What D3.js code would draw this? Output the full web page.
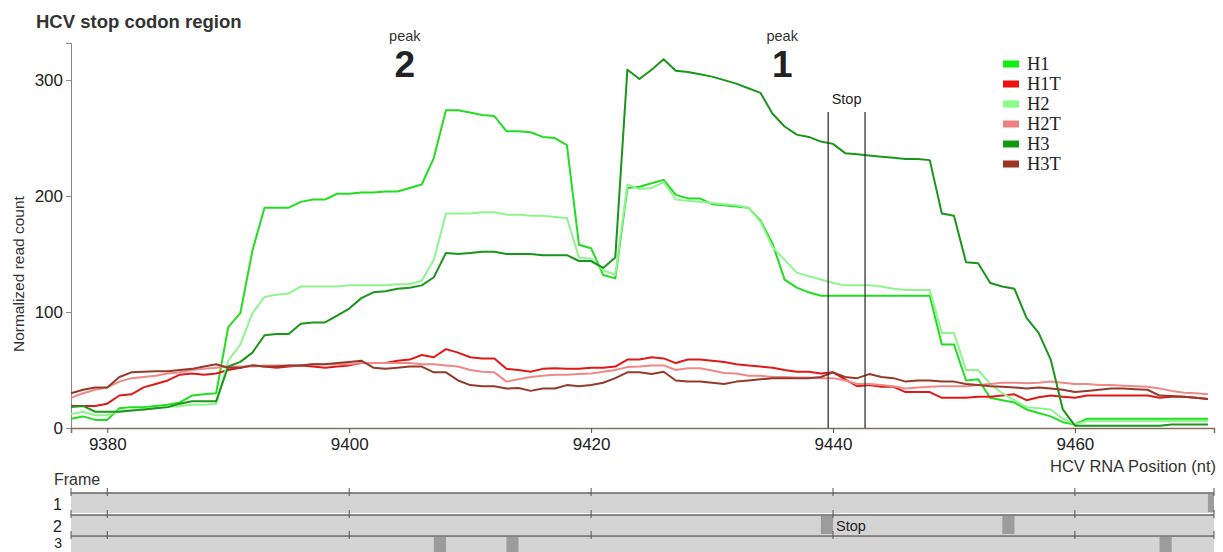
<!DOCTYPE html>
<html>
<head>
<meta charset="utf-8">
<script src="https://cdn.jsdelivr.net/npm/d3@7"></script>
<style>
  body { margin: 0; background: #fff; }
  svg { display: block; font-family: "Liberation Sans", Arial, sans-serif; }
  .axis text { font-size: 17px; fill: #222; }
</style>
</head>
<body>
<div id="chart"></div>
<script>
// positions start at 9377, one value per nucleotide
const startPos = 9377;

const H1 = [8, 10, 7, 7, 17, 18, 18, 19, 20, 22, 28, 29, 30,
  87, 99, 153, 190, 190, 190, 195, 197, 197, 202, 202, 203, 203, 204, 204, 207, 210, 233,
  274, 274, 272, 270, 269, 256, 256, 255, 251, 250, 244, 158, 155, 132, 129,
  207, 208, 211, 214, 201, 198, 198, 193, 192, 191, 190, 179, 159, 128, 121, 117,
  114, 114, 114, 114, 114, 114, 114, 114, 114, 114,
  72, 72, 41, 42, 26, 24, 22, 16, 13, 10, 5, 3,
  8, 8, 8, 8, 8, 8, 8, 8, 8, 8, 8];

const H1T = [19, 19, 19, 21, 28, 29, 35, 38, 41, 46, 47, 46, 47,
  50, 52, 54, 53, 52, 53, 54, 53, 52, 53, 54, 56, 56, 56, 58, 59, 63, 61,
  68, 65, 61, 60, 60, 51, 50, 48.5, 51, 51.5, 51, 51, 52, 52, 53,
  59, 59, 61, 60, 56, 59, 59, 58, 57, 55, 54, 53, 52, 50, 48.5, 48.5,
  47, 48, 42, 36, 37, 35.5, 35.5, 31, 31, 31,
  26, 26, 26, 27, 27, 28, 29, 24, 26.5, 28, 27, 26,
  28, 28, 28, 28, 28, 28, 26, 27, 27, 26, 25];

const H2 = [12, 14, 11, 11, 15, 15, 16, 17, 18, 19, 20, 20, 21,
  58, 72, 99, 113, 115, 116, 122, 122, 122, 122, 123, 123, 123, 123, 124, 124, 127, 145,
  185, 185, 185, 186, 186, 184, 184, 183, 183, 182, 181, 147, 146, 136, 132,
  210, 206, 207, 212, 197, 196, 195, 194, 193, 192, 190, 178, 156, 145, 134, 131,
  128, 125, 123, 123, 123, 122, 120, 119, 119, 119,
  82, 82, 50, 50, 38, 30, 24, 18, 17, 16, 8, 3,
  6, 6, 6, 6, 6, 6, 6, 6, 6, 6, 6];

const H2T = [26, 30, 33, 35, 40, 43, 44, 45, 47, 48, 50, 51, 52,
  53, 53, 53, 54, 54, 54, 54, 55, 55, 55, 55, 56, 56, 56, 56, 56, 55, 55,
  54, 53, 50, 48.5, 48, 40, 42, 44, 45, 46, 46, 46.5, 47, 48.5, 50,
  52.5, 53, 54, 54, 50, 51.5, 51.5, 49.5, 47.5, 47, 45, 45, 44, 44, 43.5, 43.5,
  43, 43, 41, 38, 38, 37, 36, 34, 35, 35.5,
  36, 36, 36, 37, 38, 39, 39, 38.5, 39, 40, 39, 38,
  38, 37, 37, 36.5, 36, 35.5, 34, 32, 30.5, 30, 29];

const H3 = [18, 19, 14, 14, 14, 15, 16, 17, 18, 21, 23, 23, 23,
  53, 57, 65, 80, 81, 81, 90, 91, 91, 97, 103, 112, 117, 118, 120, 121, 123, 130,
  151, 150, 151, 152, 152, 150, 150, 150, 149, 149, 149, 144, 144, 138, 147,
  309, 301, 309, 318, 308, 307, 305, 303, 300, 297, 293, 289, 271, 260, 253, 251,
  247, 245, 237, 236, 235, 234, 233, 232, 232, 231,
  185, 183, 143, 142, 125, 122, 120, 95, 82, 59, 16, 2,
  2, 2, 2, 2, 2, 2, 2, 3, 3, 3, 3];

const H3T = [30, 33, 35, 35, 44, 48, 48.5, 49, 49, 50, 51, 53, 55,
  52, 52, 54, 53, 53, 54, 54, 55, 55, 56, 57, 58, 52, 51, 52, 53, 53, 48,
  48, 41, 37, 36, 36, 34, 34.5, 32, 34, 34, 37, 36, 37, 39, 43,
  48, 48, 46.5, 48.5, 41, 40, 40, 39, 38, 40, 41, 42, 43, 43, 43, 43,
  44, 48, 44, 43, 46.5, 44, 43, 40, 41, 41,
  40, 40, 38, 37, 36, 35.5, 35, 34, 35, 34, 33, 31,
  32, 33, 34, 34, 33.5, 33, 28, 27.5, 27, 26, 25];

const seriesNames = ["H1", "H1T", "H2", "H2T", "H3", "H3T"];
const seriesValues = [H1, H1T, H2, H2T, H3, H3T];
const seriesColors = ["#22dd22", "#e01818", "#8ff58f", "#f08888", "#1a961a", "#943a2a"];
const legendColors = ["#11ee11", "#ee1111", "#88ff88", "#f08080", "#119911", "#993322"];

const xTicks = [9380, 9400, 9420, 9440, 9460];
const yTicks = [0, 100, 200, 300];
const stopLines = [9439.6, 9442.65];
const peaks = [{pos: 9404.6, label: "2"}, {pos: 9435.8, label: "1"}];

// stop codons in each reading frame (start nt of the marked cell)
const frameNames = ["1", "2", "3"];
const frameStops = [[9471], [9439, 9454], [9407, 9413, 9467]];

const width = 1223, height = 552;
const margin = {left: 71, right: 9, top: 43, bottom: 124};

const svg = d3.select("#chart").append("svg")
  .attr("width", width)
  .attr("height", height);

const x = d3.scaleLinear()
  .domain([9377, 9471.5])
  .range([margin.left, width - margin.right]);

const y = d3.scaleLinear()
  .domain([0, 332])
  .range([height - margin.bottom, margin.top]);

// title
svg.append("text")
  .attr("x", 36).attr("y", 28)
  .attr("font-size", 18.5).attr("font-weight", "bold")
  .attr("fill", "#333")
  .text("HCV stop codon region");

// y axis
const yAxis = svg.append("g")
  .attr("class", "axis")
  .attr("transform", `translate(${margin.left},0)`)
  .call(d3.axisLeft(y).tickValues(yTicks).tickSize(5).tickPadding(3));
yAxis.select(".domain").attr("stroke", "#888");
yAxis.selectAll(".tick line").attr("stroke", "#888");

svg.append("text")
  .attr("transform", `translate(24,${(y(0) + y(300)) / 2 + 20}) rotate(-90)`)
  .attr("text-anchor", "middle")
  .attr("font-size", 15.5).attr("fill", "#333")
  .text("Normalized read count");

// x axis
const xAxis = svg.append("g")
  .attr("class", "axis")
  .attr("transform", `translate(0,${y(0)})`)
  .call(d3.axisBottom(x).tickValues(xTicks).tickFormat(d3.format("d")).tickSize(5).tickPadding(5));
xAxis.select(".domain").attr("stroke", "#85705f").attr("stroke-width", 1.5);
xAxis.selectAll(".tick line").attr("stroke", "#555");

svg.append("text")
  .attr("x", width - 7).attr("y", 472)
  .attr("text-anchor", "end")
  .attr("font-size", 16.5).attr("fill", "#333")
  .text("HCV RNA Position (nt)");

// lines
const line = d3.line()
  .x((d, i) => x(startPos + i))
  .y(d => y(d));

svg.append("g")
  .selectAll("path")
  .data(seriesValues)
  .join("path")
    .attr("d", line)
    .attr("fill", "none")
    .attr("stroke", (d, i) => seriesColors[i])
    .attr("stroke-width", 2)
    .attr("stroke-linejoin", "round");

// stop codon markers
svg.append("g")
  .selectAll("line")
  .data(stopLines)
  .join("line")
    .attr("x1", d => x(d)).attr("x2", d => x(d))
    .attr("y1", 112).attr("y2", y(0))
    .attr("stroke", "#333").attr("stroke-width", 1.3);

svg.append("text")
  .attr("x", (x(stopLines[0]) + x(stopLines[1])) / 2).attr("y", 104)
  .attr("text-anchor", "middle")
  .attr("font-size", 14.5).attr("fill", "#222")
  .text("Stop");

// peak labels
const peak = svg.append("g")
  .selectAll("g")
  .data(peaks)
  .join("g")
    .attr("transform", d => `translate(${x(d.pos)},0)`);
peak.append("text")
  .attr("y", 41).attr("text-anchor", "middle")
  .attr("font-size", 14.5).attr("fill", "#333")
  .text("peak");
peak.append("text")
  .attr("y", 77).attr("text-anchor", "middle")
  .attr("font-size", 37).attr("font-weight", "bold").attr("fill", "#222")
  .text(d => d.label);

// legend
const legend = svg.append("g")
  .selectAll("g")
  .data(seriesNames)
  .join("g")
    .attr("transform", (d, i) => `translate(1003,${64 + i * 20})`);
legend.append("rect")
  .attr("x", 0).attr("y", -3.5)
  .attr("width", 16).attr("height", 7)
  .attr("fill", (d, i) => legendColors[i]);
legend.append("text")
  .attr("x", 24).attr("y", 6)
  .attr("font-family", "'Liberation Serif', 'Times New Roman', serif")
  .attr("font-size", 18.5).attr("fill", "#222")
  .text(d => d);

// reading frame panel
svg.append("text")
  .attr("x", 54).attr("y", 485)
  .attr("font-size", 16).attr("fill", "#333")
  .text("Frame");

const rowTop = [493, 515, 536];
const rowH = 20;

const rows = svg.append("g")
  .selectAll("g")
  .data(frameNames)
  .join("g")
    .attr("transform", (d, i) => `translate(0,${rowTop[i]})`);

rows.append("rect")
  .attr("x", x.range()[0]).attr("y", 0)
  .attr("width", x.range()[1] - x.range()[0]).attr("height", rowH)
  .attr("fill", "#d4d4d4");

rows.each(function(d, i) {
  d3.select(this).selectAll(".stop-cell")
    .data(frameStops[i])
    .join("rect")
      .attr("class", "stop-cell")
      .attr("x", p => x(p))
      .attr("y", 1)
      .attr("width", p => Math.min(x(p + 1), x.range()[1]) - x(p))
      .attr("height", rowH - 2)
      .attr("fill", "#9c9c9c");
});

rows.append("line")
  .attr("x1", x.range()[0]).attr("x2", x.range()[1])
  .attr("y1", 0).attr("y2", 0)
  .attr("stroke", "#666").attr("stroke-width", 1.3);

rows.selectAll(".ftick")
  .data(xTicks.concat([9377, 9471.5]))
  .join("line")
    .attr("class", "ftick")
    .attr("x1", d => x(d)).attr("x2", d => x(d))
    .attr("y1", -5).attr("y2", 3)
    .attr("stroke", "#555");

// row numbers; the last one sits higher and smaller so it stays inside the picture
rows.append("text")
  .attr("x", 62).attr("y", (d, i) => i === 2 ? 12 : 17)
  .attr("text-anchor", "end")
  .attr("font-size", (d, i) => i === 2 ? 14 : 16)
  .attr("fill", "#222")
  .text(d => d);

svg.append("text")
  .attr("x", x(9440) + 3).attr("y", rowTop[1] + 16)
  .attr("font-size", 14.5).attr("fill", "#222")
  .text("Stop");
</script>
</body>
</html>
